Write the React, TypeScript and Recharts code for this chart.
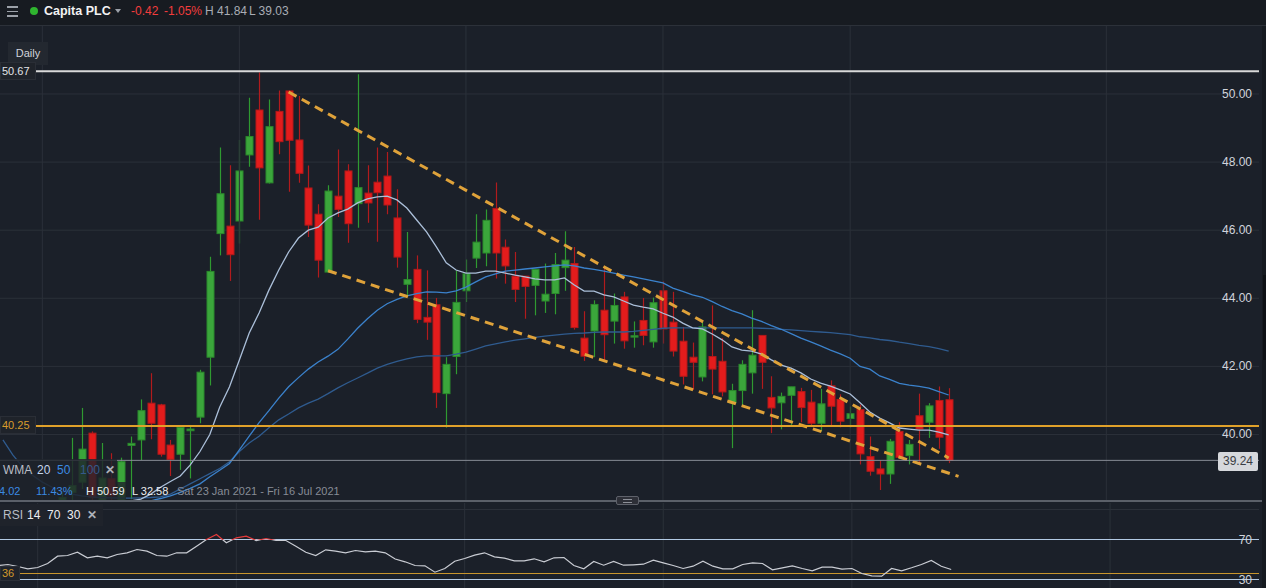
import React from 'react';
import { ComposedChart, Bar, Line, XAxis, YAxis, CartesianGrid, ReferenceLine } from 'recharts';

// ---------- data ----------
const opens = [36.6, 37.0, 36.9, 36.7, 36.2, 36.5, 37.6, 38.3, 38.6, 40.04, 37.95, 38.7, 38.0, 39.68, 39.84, 40.92, 40.87, 39.69, 39.42, 40.11,
  40.51, 42.27, 45.9, 46.12, 46.27, 48.21, 49.53, 47.39, 49.49, 50.09, 48.65, 47.24, 46.47, 44.77, 47.0, 47.74, 46.78, 47.09, 47.41, 47.59,
  46.36, 44.41, 44.85, 43.44, 43.81, 41.2, 42.29, 44.22, 45.18, 45.33, 46.64, 45.5, 44.65, 44.65, 44.38, 43.92, 44.14, 44.9, 45.02, 42.83,
  43.04, 43.65, 43.33, 44.04, 42.86, 43.35, 42.72, 44.22, 43.3, 42.74, 42.27, 41.69, 42.29, 42.15, 40.93, 41.29, 41.81, 42.91, 41.09, 40.93,
  41.15, 41.26, 40.95, 40.33, 41.43, 41.03, 40.47, 40.73, 39.35, 38.99, 38.84, 40.09, 39.38, 40.55, 40.36, 41.0, 41.02];
const highs = [37.2, 37.4, 37.3, 36.9, 36.8, 37.5, 38.3, 39.9, 40.78, 40.09, 39.75, 39.45, 39.32, 39.94, 41.03, 41.8, 40.9, 39.84, 40.21, 40.28,
  41.9, 45.22, 48.43, 47.91, 48.65, 49.89, 50.63, 49.84, 50.1, 50.1, 49.94, 47.9, 46.76, 47.32, 48.37, 47.94, 50.58, 47.91, 48.43, 48.3,
  47.2, 45.95, 45.26, 44.82, 44.01, 42.27, 44.82, 45.14, 46.47, 46.61, 47.4, 45.73, 45.36, 44.65, 44.85, 45.02, 45.33, 45.97, 45.51, 43.62,
  43.94, 44.95, 44.14, 44.19, 43.32, 44.01, 44.02, 44.5, 44.19, 43.16, 42.7, 43.3, 43.79, 42.83, 41.49, 42.18, 43.65, 42.91, 41.71, 41.23,
  41.4, 41.37, 41.31, 41.34, 41.59, 41.18, 40.82, 40.88, 39.94, 39.24, 39.87, 40.36, 39.84, 41.2, 40.92, 41.41, 41.36];
const lows = [36.3, 36.6, 36.4, 36.0, 35.9, 36.4, 37.4, 38.0, 38.4, 37.9, 37.8, 37.9, 37.8, 38.1, 39.25, 39.86, 39.35, 38.78, 38.96, 38.71,
  40.33, 41.44, 45.26, 44.51, 45.61, 47.86, 46.31, 47.37, 48.23, 47.13, 47.39, 45.8, 44.61, 44.77, 46.39, 45.63, 46.07, 46.22, 45.66, 46.47,
  44.9, 44.09, 43.27, 42.78, 40.78, 40.2, 41.77, 43.89, 44.89, 44.94, 44.58, 44.43, 43.89, 43.4, 43.5, 43.57, 43.53, 44.22, 43.08, 42.16,
  42.27, 42.18, 42.67, 42.52, 42.55, 42.62, 42.55, 42.67, 42.29, 41.47, 41.31, 41.56, 41.18, 41.12, 39.6, 40.85, 41.2, 41.34, 40.04, 40.15,
  40.22, 40.36, 40.28, 40.09, 40.25, 40.21, 40.2, 39.12, 38.79, 38.37, 38.55, 39.28, 39.12, 39.14, 39.9, 39.58, 39.16];
const closes = [37.0, 36.9, 36.7, 36.2, 36.5, 37.3, 38.15, 38.5, 39.57, 38.15, 38.72, 38.2, 39.2, 39.74, 40.7, 40.33, 39.42, 39.27, 40.21, 40.16,
  41.83, 44.79, 47.07, 45.28, 47.74, 48.75, 47.83, 49.04, 48.6, 48.64, 47.67, 46.15, 45.12, 47.15, 46.61, 46.19, 47.25, 46.8, 47.1, 46.74,
  45.21, 44.55, 43.38, 43.3, 41.23, 42.06, 43.88, 44.72, 45.65, 46.29, 45.33, 44.95, 44.26, 44.35, 44.85, 44.12, 44.99, 45.12, 43.14, 42.3,
  43.82, 42.93, 43.79, 42.75, 42.9, 42.91, 43.87, 43.1, 42.45, 41.71, 42.12, 43.16, 41.92, 41.25, 41.29, 42.06, 42.33, 42.12, 40.78, 41.12,
  41.4, 40.79, 40.33, 40.9, 40.83, 40.39, 40.61, 39.43, 38.92, 38.84, 39.8, 39.33, 39.71, 40.16, 40.84, 39.92, 39.24];

const wma20 = [36.9, 36.9, 37.0, 37.1, 37.2, 37.35, 37.5, 37.6, 37.75, 37.85, 37.9, 37.95, 38.0, 38.05, 38.1, 38.25, 38.45, 38.62, 38.78, 39.1,
  39.5, 40.0, 40.8, 41.4, 42.19, 42.98, 43.57, 44.24, 44.83, 45.36, 45.77, 46.0, 46.09, 46.36, 46.51, 46.62, 46.8, 46.92, 46.98, 47.0,
  46.89, 46.65, 46.3, 45.95, 45.51, 45.04, 44.83, 44.74, 44.74, 44.8, 44.8, 44.74, 44.68, 44.63, 44.57, 44.54, 44.54, 44.6, 44.39, 44.21,
  44.21, 44.1, 44.04, 43.92, 43.8, 43.74, 43.69, 43.56, 43.45, 43.27, 43.13, 43.1, 42.95, 42.78, 42.57, 42.48, 42.45, 42.36, 42.19, 42.04,
  41.95, 41.81, 41.63, 41.51, 41.42, 41.31, 41.19, 40.93, 40.66, 40.48, 40.34, 40.19, 40.16, 40.13, 40.13, 40.07, 39.99];
const wma50 = [37.4, 37.4, 37.4, 37.45, 37.5, 37.55, 37.6, 37.65, 37.7, 37.75, 37.8, 37.85, 37.9, 37.95, 38.0, 38.05, 38.12, 38.2, 38.3, 38.42,
  38.55, 38.76, 38.95, 39.15, 39.55, 39.95, 40.35, 40.7, 41.07, 41.4, 41.67, 41.92, 42.13, 42.3, 42.5, 42.8, 43.12, 43.4, 43.65, 43.84,
  43.97, 44.07, 44.14, 44.19, 44.18, 44.16, 44.22, 44.33, 44.48, 44.63, 44.72, 44.8, 44.83, 44.86, 44.89, 44.92, 44.95, 44.98, 44.95, 44.89,
  44.85, 44.8, 44.74, 44.68, 44.63, 44.57, 44.51, 44.45, 44.3, 44.2, 44.1, 44.03, 43.9, 43.76, 43.64, 43.54, 43.42, 43.32, 43.2, 43.09,
  42.96, 42.83, 42.72, 42.6, 42.48, 42.37, 42.24, 42.0, 41.92, 41.72, 41.62, 41.5, 41.45, 41.41, 41.36, 41.26, 41.16];
const wma100 = [39.84, 39.4, 39.05, 38.8, 38.6, 38.45, 38.33, 38.25, 38.2, 38.17, 38.15, 38.14, 38.13, 38.13, 38.14, 38.15, 38.17, 38.25, 38.4, 38.55,
  38.7, 38.85, 39.0, 39.2, 39.5, 39.75, 39.95, 40.2, 40.43, 40.6, 40.78, 40.92, 41.04, 41.2, 41.37, 41.52, 41.66, 41.8, 41.95, 42.06,
  42.15, 42.22, 42.28, 42.31, 42.31, 42.31, 42.36, 42.42, 42.51, 42.6, 42.66, 42.72, 42.77, 42.81, 42.85, 42.89, 42.92, 42.95, 42.97, 42.98,
  43.0, 43.01, 43.01, 43.01, 43.03, 43.06, 43.09, 43.12, 43.13, 43.13, 43.13, 43.13, 43.13, 43.13, 43.13, 43.13, 43.13, 43.12, 43.11, 43.09,
  43.07, 43.05, 43.03, 43.01, 42.99, 42.96, 42.93, 42.87, 42.84, 42.79, 42.76, 42.71, 42.67, 42.62, 42.58, 42.52, 42.45];
const rsi14 = [44, 45, 43, 40.7, 42, 46, 53.3, 54, 57.3, 51.7, 53.3, 51.7, 55, 56.7, 60, 58.3, 54, 53.3, 56.7, 56.7,
  63.3, 70, 75, 66.7, 71.7, 73.3, 69, 71, 69, 69, 63.3, 57.3, 54, 59.7, 58.3, 56.7, 59, 57.7, 58.3, 56.7,
  50.5, 47.7, 44, 43.7, 37.3, 41, 48.3, 51, 54.3, 56.7, 52.7, 51.3, 48.7, 48.7, 50.7, 47.7, 51.7, 52, 44, 40.7,
  48, 44.3, 48, 44.3, 44.7, 45.3, 49.3, 46.7, 44, 41, 43.3, 48.3, 43.3, 40.7, 40.7, 45, 46.7, 46, 39.7, 41.7,
  43.7, 41, 38.7, 42.3, 42.3, 40.3, 41, 36, 33.7, 33.3, 41, 38.7, 41.7, 45, 49, 43.3, 40];

const upperTrend = { startIdx: 29, startValue: 50.06, endIdx: 96, endValue: 39.31 };
const lowerTrend = { startIdx: 33, startValue: 44.81, endIdx: 97, endValue: 38.77 };

const priceTicks = [40, 42, 44, 46, 48, 50];
const rsiTicks = [30, 70];
const monthGridIdx = [4, 24, 47, 67, 86, 112];
const TOTAL_SLOTS = 128;

const rangeHighLevel = 50.67;
const supportLevel = 40.25;
const lastPrice = 39.24;
const rsiMarker = 36;
const rsiUpper = 70;
const rsiLower = 30;
const rsiGrid = 100;

const header = { name: 'Capita PLC', change: '-0.42', changePct: '-1.05%', high: 'H 41.84', low: 'L 39.03' };
const legendRow = { a: '4.02', b: '11.43%', h: 'H 50.59', l: 'L 32.58', range: 'Sat 23 Jan 2021 - Fri 16 Jul 2021' };

// ---------- build chart table ----------
const data = Array.from({ length: TOTAL_SLOTS }, (_, i) => {
  const has = i < opens.length;
  return {
    idx: i,
    range: has ? [lows[i], highs[i]] : null,
    open: has ? opens[i] : null,
    high: has ? highs[i] : null,
    low: has ? lows[i] : null,
    close: has ? closes[i] : null,
    wma20: has ? wma20[i] : null,
    wma50: has ? wma50[i] : null,
    wma100: has ? wma100[i] : null,
    rsi: has ? rsi14[i] : null,
    upper: i === upperTrend.startIdx ? upperTrend.startValue : i === upperTrend.endIdx ? upperTrend.endValue : null,
    lower: i === lowerTrend.startIdx ? lowerTrend.startValue : i === lowerTrend.endIdx ? lowerTrend.endValue : null,
  };
});

const rsiMax = Math.max(...rsi14);
const rsiMin = Math.min(...rsi14);
const rsiSplit = (rsiMax - rsiUpper) / (rsiMax - rsiMin);

// ---------- styles ----------
const FONT = '"Liberation Sans", Arial, sans-serif';
const BG = '#1b2029';
const GRID = '#2b3039';
const CHART_W = 1261;
const LABEL_X = 1254;

const Candle = (props: any) => {
  const { x, y, width, height, payload, value } = props;
  if (!payload || payload.open == null || x == null || y == null) return null;
  const top = Math.min(y, y + height);
  const h = Math.abs(height);
  const vr = Array.isArray(value) ? value : [payload.low, payload.high];
  const lo = Math.min(vr[0], vr[1]);
  const hi = Math.max(vr[0], vr[1]);
  const py = (p: number) => (hi === lo ? top : top + ((hi - p) / (hi - lo)) * h);
  const up = payload.close >= payload.open;
  const cx = Math.round(x + width / 2) + 0.5;
  const yO = py(payload.open);
  const yC = py(payload.close);
  const bTop = Math.min(yO, yC);
  const bH = Math.max(1, Math.abs(yO - yC));
  return (
    <g>
      <line x1={cx} x2={cx} y1={top} y2={top + h} stroke={up ? '#2f9a31' : '#b11b1d'} strokeWidth={1.2} />
      <rect x={cx - 3.5} y={bTop} width={7} height={bH} fill={up ? '#3ba63b' : '#e31c1c'} stroke={up ? '#2b8a2c' : '#b3191a'} strokeWidth={1} />
    </g>
  );
};

const renderPriceTick = (props: any) => (
  <text x={LABEL_X} y={props.y} dy={4} textAnchor="end" fill="#d1d4dc" fontSize={12} fontFamily={FONT}>
    {Number(props.payload.value).toFixed(2)}
  </text>
);
const renderRsiTick = (props: any) => (
  <text x={LABEL_X} y={props.y} dy={4} textAnchor="end" fill="#d1d4dc" fontSize={12} fontFamily={FONT}>
    {String(props.payload.value)}
  </text>
);

const box = (extra: React.CSSProperties): React.CSSProperties => ({
  position: 'absolute',
  boxSizing: 'border-box',
  whiteSpace: 'nowrap',
  ...extra,
});

export default function App() {
  return (
    <div style={{ position: 'absolute', left: 0, top: 0, width: 1266, height: 588, background: BG, overflow: 'hidden', fontFamily: FONT }}>
      {/* header */}
      <div style={box({ left: 0, top: 0, width: 1266, height: 26, background: '#171b21', borderBottom: '1px solid #2c3139' })}>
        {[6, 10.5, 15].map((t) => (
          <div key={t} style={box({ left: 7, top: t, width: 11, height: 1.5, background: '#9ca1a9' })} />
        ))}
        <div style={box({ left: 29.5, top: 6.5, width: 8, height: 8, borderRadius: 4, background: '#2fb52f' })} />
        <div style={box({ left: 44, top: 3, fontSize: 12.5, fontWeight: 'bold', color: '#f2f2f2', lineHeight: '16px' })}>{header.name}</div>
        <div style={box({ left: 115, top: 9, width: 0, height: 0, borderLeft: '3.5px solid transparent', borderRight: '3.5px solid transparent', borderTop: '4px solid #9ca1a9' })} />
        <div style={box({ left: 131, top: 3, fontSize: 12, color: '#f23d3d', lineHeight: '16px' })}>{header.change}</div>
        <div style={box({ left: 164, top: 3, fontSize: 12, color: '#f23d3d', lineHeight: '16px' })}>{header.changePct}</div>
        <div style={box({ left: 205, top: 3, fontSize: 12, color: '#a9adb5', lineHeight: '16px' })}>{header.high}</div>
        <div style={box({ left: 249, top: 3, fontSize: 12, color: '#a9adb5', lineHeight: '16px' })}>{header.low}</div>
      </div>

      {/* price pane */}
      <div style={box({ left: -2, top: 26, width: CHART_W, height: 474 })}>
        <ComposedChart width={CHART_W} height={474} data={data} margin={{ top: 0, right: 0, bottom: 0, left: 0 }} barCategoryGap={0}>
          <XAxis dataKey="idx" type="category" hide />
          <YAxis orientation="right" mirror width={60} domain={[38.076, 51.997]} allowDataOverflow ticks={priceTicks} interval={0}
            axisLine={false} tickLine={false} tick={renderPriceTick} />
          <CartesianGrid vertical={false} stroke={GRID} horizontalValues={priceTicks} />
          {monthGridIdx.map((m) => (
            <ReferenceLine key={'v' + m} x={m} stroke={GRID} />
          ))}
          <Bar dataKey="range" barSize={8} shape={(p: any) => <Candle {...p} />} isAnimationActive={false} />
          <Line dataKey="wma100" type="linear" stroke="#2f5b8f" strokeWidth={1.3} dot={false} activeDot={false} connectNulls isAnimationActive={false} />
          <Line dataKey="wma50" type="linear" stroke="#3b82cc" strokeWidth={1.3} dot={false} activeDot={false} connectNulls isAnimationActive={false} />
          <Line dataKey="wma20" type="linear" stroke="#abbfd9" strokeWidth={1.3} dot={false} activeDot={false} connectNulls isAnimationActive={false} />
          <Line dataKey="upper" type="linear" stroke="#dfa23a" strokeWidth={3} strokeDasharray="9 6" dot={false} activeDot={false} connectNulls isAnimationActive={false} />
          <Line dataKey="lower" type="linear" stroke="#dfa23a" strokeWidth={3} strokeDasharray="9 6" dot={false} activeDot={false} connectNulls isAnimationActive={false} />
          <ReferenceLine y={rangeHighLevel} stroke="#d9d9d9" strokeWidth={2} />
          <ReferenceLine y={supportLevel} stroke="#e0a12a" strokeWidth={2} />
          <ReferenceLine y={lastPrice} stroke="#878c95" strokeWidth={1} />
        </ComposedChart>
      </div>

      {/* rsi pane */}
      <div style={box({ left: -2, top: 503, width: CHART_W, height: 85 })}>
        <ComposedChart width={CHART_W} height={85} data={data} margin={{ top: 0, right: 0, bottom: 0, left: 0 }}>
          <defs>
            <linearGradient id="rsiStroke" x1="0" y1="0" x2="0" y2="1">
              <stop offset={0} stopColor="#e43a3a" />
              <stop offset={rsiSplit} stopColor="#e43a3a" />
              <stop offset={rsiSplit} stopColor="#c9ccd3" />
              <stop offset={1} stopColor="#c9ccd3" />
            </linearGradient>
          </defs>
          <XAxis dataKey="idx" type="category" hide />
          <YAxis orientation="right" mirror width={60} domain={[21.5, 106.5]} allowDataOverflow ticks={rsiTicks} interval={0}
            axisLine={false} tickLine={false} tick={renderRsiTick} />
          <ReferenceLine y={rsiGrid} stroke={GRID} />
          {monthGridIdx.map((m) => (
            <ReferenceLine key={'r' + m} x={m} stroke={GRID} />
          ))}
          <ReferenceLine y={rsiUpper} stroke="#b3cae4" strokeWidth={1} />
          <ReferenceLine y={rsiLower} stroke="#b3cae4" strokeWidth={1} />
          <ReferenceLine y={rsiMarker} stroke="#c8952c" strokeWidth={1} />
          <Line dataKey="rsi" type="linear" stroke="url(#rsiStroke)" strokeWidth={1.2} dot={false} activeDot={false} connectNulls isAnimationActive={false} />
        </ComposedChart>
      </div>

      {/* pane separator + handle */}
      <div style={box({ left: 0, top: 500, width: 1262, height: 1.5, background: '#5b6069' })} />
      <div style={box({ left: 616, top: 496, width: 23, height: 9, background: '#2d2f37', border: '1px solid #5e616a', borderRadius: 2 })}>
        <div style={box({ left: 6, top: 2, width: 9, height: 1, background: '#8d9098' })} />
        <div style={box({ left: 6, top: 4.5, width: 9, height: 1, background: '#8d9098' })} />
      </div>

      {/* right edge strip */}
      <div style={box({ left: 1262, top: 26, width: 4, height: 562, background: '#161a20' })} />
      <div style={box({ left: 1263, top: 275, width: 3, height: 85, background: '#0e1115' })} />

      {/* labels & legends */}
      <div style={box({ left: 8, top: 42, width: 40, height: 23, background: '#232830', color: '#d1d4dc', fontSize: 11, lineHeight: '23px', textAlign: 'center' })}>Daily</div>
      <div style={box({ left: 0, top: 62, width: 36, height: 18, background: '#1f232a', border: '1px solid #2a2e36', color: '#e2e4e8', fontSize: 11, lineHeight: '16px', paddingLeft: 1 })}>{rangeHighLevel.toFixed(2)}</div>
      <div style={box({ left: 0, top: 416, width: 36, height: 18, background: '#1f232a', border: '1px solid #2a2e36', color: '#d89c2c', fontSize: 11, lineHeight: '16px', paddingLeft: 1 })}>{supportLevel.toFixed(2)}</div>
      <div style={box({ left: 1218, top: 452, width: 40, height: 19, background: '#d6d8dc', borderRadius: 2, color: '#3a3d44', fontSize: 12, lineHeight: '19px', textAlign: 'center' })}>{lastPrice.toFixed(2)}</div>

      <div style={box({ left: 0, top: 459, width: 117, height: 23, background: 'rgba(31,35,43,0.82)', fontSize: 12, lineHeight: '23px' })}>
        <span style={box({ left: 3, top: 0, color: '#b9bdc5' })}>WMA</span>
        <span style={box({ left: 37, top: 0, color: '#c3d4ea' })}>20</span>
        <span style={box({ left: 57, top: 0, color: '#3b8ae3' })}>50</span>
        <span style={box({ left: 80, top: 0, color: '#35598b' })}>100</span>
        <span style={box({ left: 105, top: 0, color: '#aeb2ba', fontWeight: 'bold' })}>✕</span>
      </div>
      <div style={box({ left: 0, top: 482, width: 126, height: 18, background: 'rgba(31,35,43,0.82)' })} />
      <div style={box({ left: 0, top: 482, width: 340, height: 18, fontSize: 11, lineHeight: '18px' })}>
        <span style={box({ left: -1, top: 0, color: '#3b8ae3' })}>{legendRow.a}</span>
        <span style={box({ left: 36, top: 0, color: '#3b8ae3' })}>{legendRow.b}</span>
        <span style={box({ left: 86, top: 0, color: '#eceef2' })}>{legendRow.h}</span>
        <span style={box({ left: 132, top: 0, color: '#eceef2' })}>{legendRow.l}</span>
        <span style={box({ left: 177, top: 0, color: '#878c96' })}>{legendRow.range}</span>
      </div>

      <div style={box({ left: 0, top: 504, width: 103, height: 22, background: '#1f232b', fontSize: 12, lineHeight: '22px' })}>
        <span style={box({ left: 3, top: 0, color: '#b9bdc5' })}>RSI</span>
        <span style={box({ left: 27, top: 0, color: '#eceef2' })}>14</span>
        <span style={box({ left: 47, top: 0, color: '#eceef2' })}>{rsiUpper}</span>
        <span style={box({ left: 67, top: 0, color: '#eceef2' })}>{rsiLower}</span>
        <span style={box({ left: 87, top: 0, color: '#aeb2ba', fontWeight: 'bold' })}>✕</span>
      </div>
      <div style={box({ left: 0, top: 566, width: 20, height: 15, background: '#1f232b', border: '1px solid #2a2e36', color: '#d39a2c', fontSize: 11, lineHeight: '13px', paddingLeft: 1 })}>{rsiMarker}</div>
    </div>
  );
}
